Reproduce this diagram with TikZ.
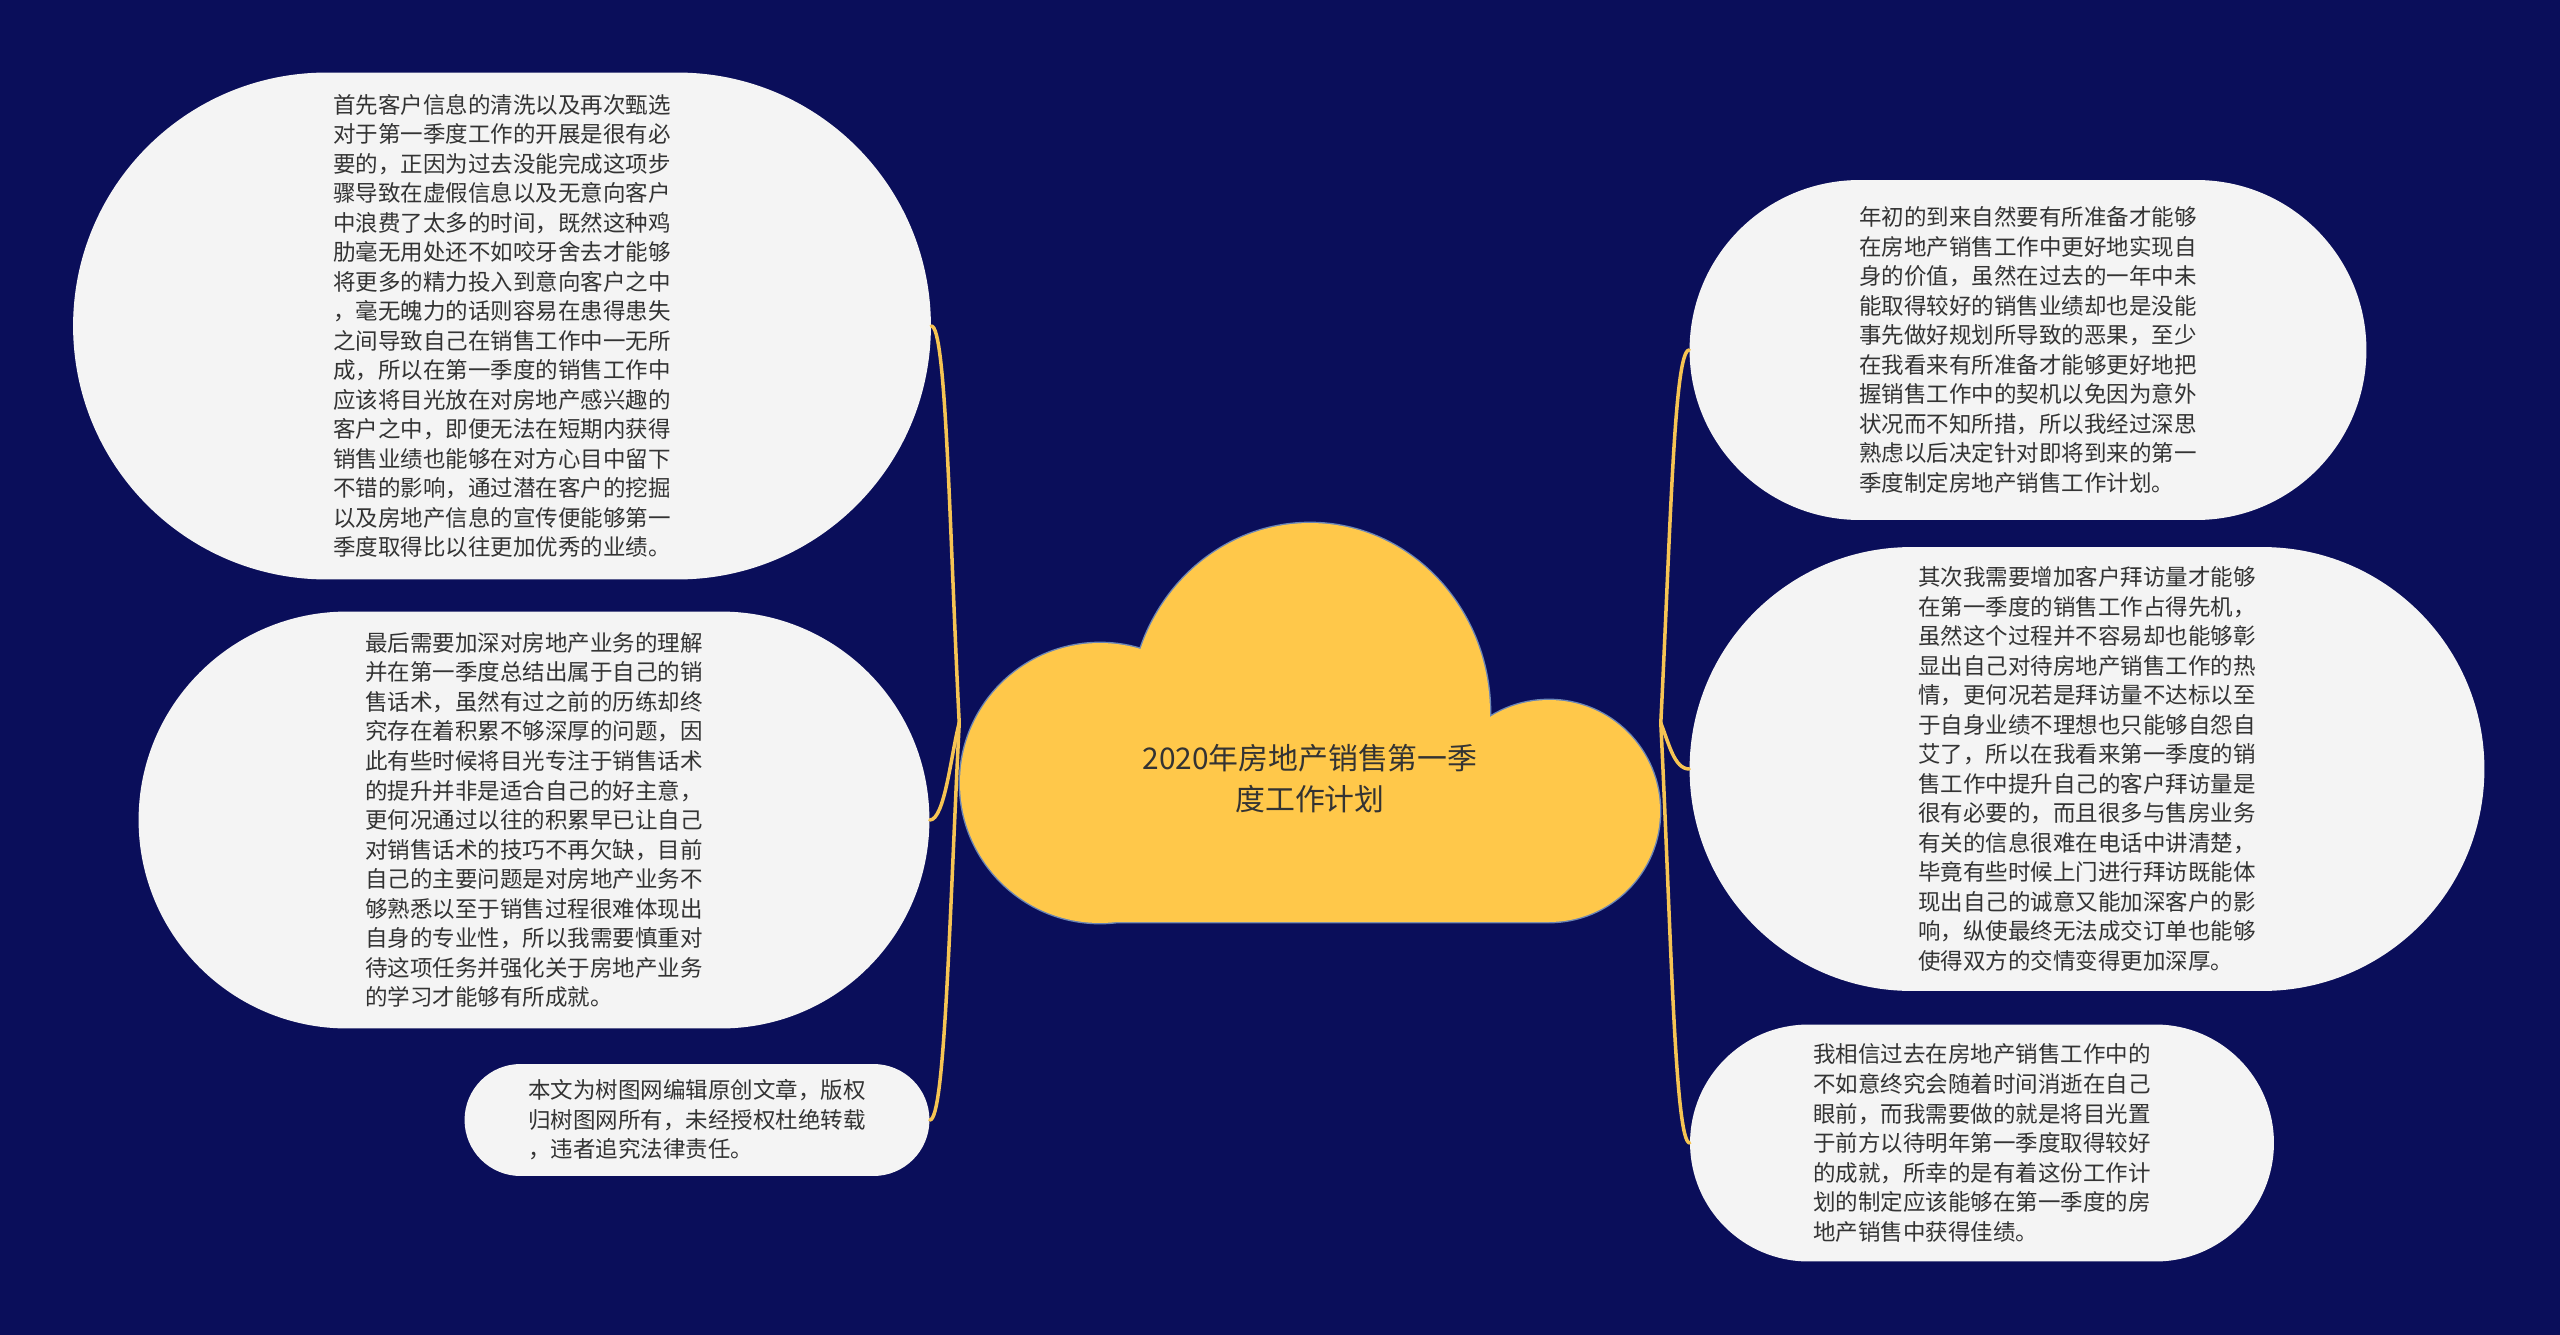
\documentclass[tikz,border=0pt]{standalone}
\usepackage{fontspec}
\setmainfont{Noto Sans CJK SC}
\definecolor{navy}{HTML}{0A0E5A}
\definecolor{paper}{HTML}{F4F4F4}
\definecolor{gold}{HTML}{F6C453}
\definecolor{sun}{HTML}{FFC84A}
\definecolor{rim}{HTML}{6C86B5}
\definecolor{ink}{HTML}{333333}

\begin{document}
\begin{tikzpicture}[x=0.02cm,y=-0.02cm,line cap=round,line join=round,
  bubble/.style={fill=paper,inner sep=0pt,align=left,text=ink,font=\fontsize{12.8pt}{16.8pt}\selectfont},
  branch/.style={gold,line width=2pt}]
  \fill[navy] (0,0) rectangle (2560,1335);
  \useasboundingbox (0,0) rectangle (2560,1335);

  % Central cloud
  \draw[rim,line width=1.6pt] (1310,713) ellipse[x radius=3.6cm,y radius=3.8cm] (1100,783) circle[radius=2.8cm]
    (1549,811) circle[radius=2.22cm] (1100,783) rectangle (1549,922);
  \fill[sun] (1310,713) ellipse[x radius=3.6cm,y radius=3.8cm] (1100,783) circle[radius=2.8cm]
    (1549,811) circle[radius=2.22cm] (1100,783) rectangle (1549,922);
  \node[minimum width=14.02cm,minimum height=7.98cm,inner sep=0pt] (root) at (1310,723) {};
  \node[align=center,text=ink,font=\fontsize{17pt}{23.3pt}\selectfont] (title) at (1310,779)
    {2020年房地产销售第一季\\度工作计划};

  % Left side
  \node[bubble,minimum width=17.16cm,minimum height=10.14cm,rounded corners=5.07cm] (lt) at (502,326)
    {首先客户信息的清洗以及再次甄选\\对于第一季度工作的开展是很有必\\要的，正因为过去没能完成这项步\\骤导致在虚假信息以及无意向客户\\中浪费了太多的时间，既然这种鸡\\肋毫无用处还不如咬牙舍去才能够\\将更多的精力投入到意向客户之中\\，毫无魄力的话则容易在患得患失\\之间导致自己在销售工作中一无所\\成，所以在第一季度的销售工作中\\应该将目光放在对房地产感兴趣的\\客户之中，即便无法在短期内获得\\销售业绩也能够在对方心目中留下\\不错的影响，通过潜在客户的挖掘\\以及房地产信息的宣传便能够第一\\季度取得比以往更加优秀的业绩。};
  \node[bubble,minimum width=15.82cm,minimum height=8.34cm,rounded corners=4.17cm] (lm) at (534,820)
    {最后需要加深对房地产业务的理解\\并在第一季度总结出属于自己的销\\售话术，虽然有过之前的历练却终\\究存在着积累不够深厚的问题，因\\此有些时候将目光专注于销售话术\\的提升并非是适合自己的好主意，\\更何况通过以往的积累早已让自己\\对销售话术的技巧不再欠缺，目前\\自己的主要问题是对房地产业务不\\够熟悉以至于销售过程很难体现出\\自身的专业性，所以我需要慎重对\\待这项任务并强化关于房地产业务\\的学习才能够有所成就。};
  \node[bubble,minimum width=9.3cm,minimum height=2.24cm,rounded corners=1.12cm] (lb) at (697,1120)
    {本文为树图网编辑原创文章，版权\\归树图网所有，未经授权杜绝转载\\，违者追究法律责任。};

  % Right side
  \node[bubble,minimum width=13.54cm,minimum height=6.8cm,rounded corners=3.4cm] (rt) at (2028,350)
    {年初的到来自然要有所准备才能够\\在房地产销售工作中更好地实现自\\身的价值，虽然在过去的一年中未\\能取得较好的销售业绩却也是没能\\事先做好规划所导致的恶果，至少\\在我看来有所准备才能够更好地把\\握销售工作中的契机以免因为意外\\状况而不知所措，所以我经过深思\\熟虑以后决定针对即将到来的第一\\季度制定房地产销售工作计划。};
  \node[bubble,minimum width=15.9cm,minimum height=8.88cm,rounded corners=4.44cm] (rm) at (2087,769)
    {其次我需要增加客户拜访量才能够\\在第一季度的销售工作占得先机，\\虽然这个过程并不容易却也能够彰\\显出自己对待房地产销售工作的热\\情，更何况若是拜访量不达标以至\\于自身业绩不理想也只能够自怨自\\艾了，所以在我看来第一季度的销\\售工作中提升自己的客户拜访量是\\很有必要的，而且很多与售房业务\\有关的信息很难在电话中讲清楚，\\毕竟有些时候上门进行拜访既能体\\现出自己的诚意又能加深客户的影\\响，纵使最终无法成交订单也能够\\使得双方的交情变得更加深厚。};
  \node[bubble,minimum width=11.68cm,minimum height=4.74cm,rounded corners=2.37cm] (rb) at (1982,1143)
    {我相信过去在房地产销售工作中的\\不如意终究会随着时间消逝在自己\\眼前，而我需要做的就是将目光置\\于前方以待明年第一季度取得较好\\的成就，所幸的是有着这份工作计\\划的制定应该能够在第一季度的房\\地产销售中获得佳绩。};

  % Branches
  \draw[branch] (root.west) .. controls +(-10,-200) and +(15,0) .. (lt.east);
  \draw[branch] (root.west) .. controls +(-8,30) and +(15,0) .. (lm.east);
  \draw[branch] (root.west) .. controls +(-10,200) and +(15,0) .. (lb.east);
  \draw[branch] (root.east) .. controls +(10,-200) and +(-15,0) .. (rt.west);
  \draw[branch] (root.east) .. controls +(8,20) and +(-15,0) .. (rm.west);
  \draw[branch] (root.east) .. controls +(10,200) and +(-15,0) .. (rb.west);
\end{tikzpicture}
\end{document}
